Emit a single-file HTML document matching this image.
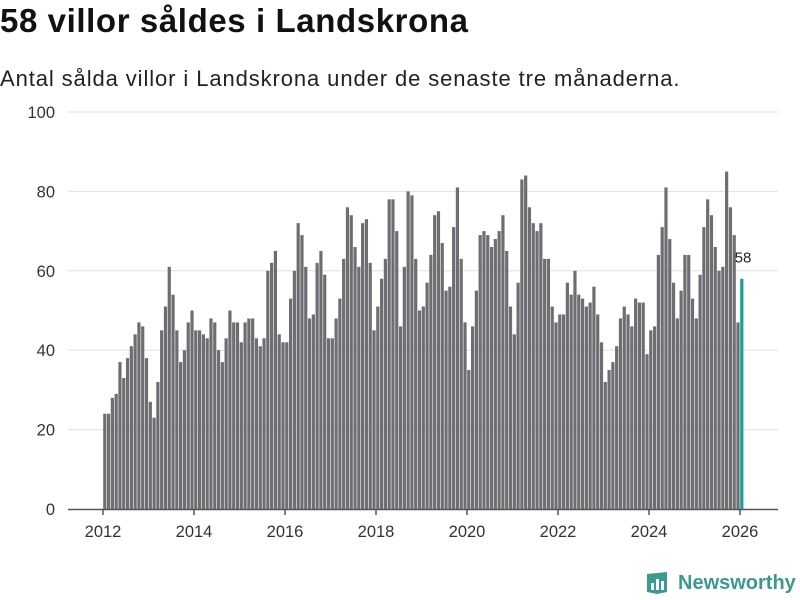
<!DOCTYPE html>
<html><head><meta charset="utf-8"><style>
body{margin:0;background:#fff;width:800px;height:600px;overflow:hidden;font-family:"Liberation Sans",sans-serif}
h1{position:absolute;left:0;top:2px;margin:0;font-size:33px;letter-spacing:0.6px;font-weight:bold;color:#111}
.sub{position:absolute;left:0;top:66px;font-size:22px;letter-spacing:0.9px;color:#222}
svg{position:absolute;left:0;top:0}
</style></head><body>
<h1>58 villor såldes i Landskrona</h1>
<div class="sub">Antal sålda villor i Landskrona under de senaste tre månaderna.</div>
<svg id="c" width="800" height="600"></svg>
<div style="position:absolute;left:645px;top:570px;display:flex;align-items:center;color:#3a9a8f;font-weight:bold;font-size:20px">
<svg width="24" height="26" viewBox="0 0 24 26" style="position:static;margin-right:9px"><path d="M2 4 L22 2 L22 22 L12 24 L2 22 Z" fill="#3a9a8f"/><rect x="6" y="13" width="3" height="7" fill="#fff"/><rect x="11" y="9" width="3" height="11" fill="#fff"/><rect x="16" y="11" width="3" height="9" fill="#fff"/></svg>Newsworthy</div>
<script>
const startYear = 2012;
const values = [
24,24,28,29,37,33,38,41,44,47,46,38,
27,23,32,45,51,61,54,45,37,40,47,50,
45,45,44,43,48,47,40,37,43,50,47,47,
42,47,48,48,43,41,43,60,62,65,44,42,
42,53,60,72,69,61,48,49,62,65,59,43,
43,48,53,63,76,74,66,61,72,73,62,45,
51,58,63,78,78,70,46,61,80,79,63,50,
51,57,64,74,75,67,55,56,71,81,63,47,
35,46,55,69,70,69,66,68,70,74,65,51,
44,57,83,84,76,72,70,72,63,63,51,47,
49,49,57,54,60,54,53,51,52,56,49,42,
32,35,37,41,48,51,49,46,53,52,52,39,
45,46,64,71,81,68,57,48,55,64,64,53,
48,59,71,78,74,66,60,61,85,76,69,47,
58];
const yTicks = [0,20,40,60,80,100];
const xTicks = [2012,2014,2016,2018,2020,2022,2024,2026];
const svg = document.getElementById('c');
const NS = 'http://www.w3.org/2000/svg';
const x = t => 103 + (t - 2012) * (637/14);
const y = v => 509 - v * 3.97;
function mk(tag, attrs){const e=document.createElementNS(NS,tag);for(const k in attrs)e.setAttribute(k,attrs[k]);svg.appendChild(e);return e;}
yTicks.forEach(v=>{
  if(v>0){const g=mk('line',{x1:68,x2:778,y1:y(v),y2:y(v),stroke:'#e0e0e0','stroke-width':1});
  
  }
  const t=mk('text',{x:55,y:y(v)+6,'text-anchor':'end','font-size':16.5,fill:'#333','font-family':'Liberation Sans, sans-serif'});
  t.textContent=v;
  
  
});
values.forEach((v,i)=>{
  const t=startYear+i/12;
  const last=i===values.length-1;
  const r=mk('rect',{x:x(t)+0.2,y:y(v),width:3.2,height:y(0)-y(v),fill:last?'#1a9e95':'#6e6d72'});
  
  
  if(last){const l=mk('text',{x:x(t)+3,y:y(v)-16,'text-anchor':'middle','font-size':15,fill:'#222','font-family':'Liberation Sans, sans-serif'});
  l.textContent=v;
  
  }
});
const ax=mk('line',{x1:68,x2:778,y1:509.5,y2:509.5,stroke:'#555','stroke-width':1.5});


xTicks.forEach(yr=>{
  const tk=mk('line',{x1:x(yr),x2:x(yr),y1:509,y2:515,stroke:'#555','stroke-width':1.5});
  
  
  const t=mk('text',{x:x(yr),y:537,'text-anchor':'middle','font-size':16.5,fill:'#333','font-family':'Liberation Sans, sans-serif'});
  t.textContent=yr;
  
  
});
</script>
</body></html>
